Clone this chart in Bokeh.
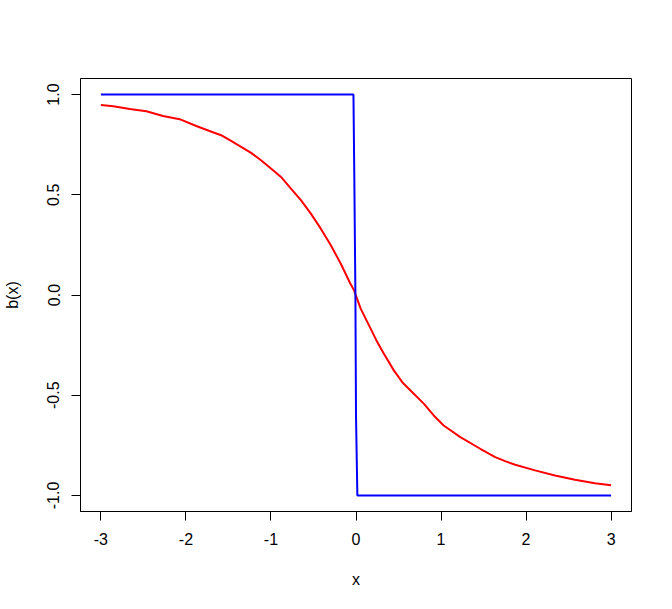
from bokeh.plotting import figure
from bokeh.models import FixedTicker, Range1d
from bokeh.embed import file_html
from bokeh.resources import INLINE

# Red curve
red_x = [-3.0, -2.855, -2.66, -2.465, -2.27, -2.074, -1.879, -1.683, -1.586,
         -1.469, -1.351, -1.234, -1.117, -1.0, -0.882, -0.765, -0.648, -0.531,
         -0.414, -0.296, -0.179, -0.070, -0.023, 0.055, 0.172, 0.25, 0.328,
         0.445, 0.544, 0.641, 0.797, 0.914, 1.031, 1.227, 1.461, 1.637, 1.754,
         1.872, 2.106, 2.340, 2.575, 2.809, 3.0]
red_y = [0.948, 0.942, 0.928, 0.917, 0.893, 0.877, 0.843, 0.812, 0.797,
         0.769, 0.739, 0.709, 0.672, 0.631, 0.589, 0.531, 0.473, 0.406,
         0.331, 0.248, 0.156, 0.060, 0.023, -0.068, -0.168, -0.235, -0.293,
         -0.376, -0.435, -0.476, -0.542, -0.601, -0.651, -0.709, -0.767, -0.809, -0.829,
         -0.847, -0.875, -0.900, -0.922, -0.939, -0.949]

# Blue step curve
blue_x = [-3.0, -0.03, -0.02, -0.007, 0.0, 0.016, 3.0]
blue_y = [1.0, 1.0, 0.6, 0.0, -0.6, -1.0, -1.0]

x_ticks = [-3, -2, -1, 0, 1, 2, 3]
x_tick_labels = ["-3", "-2", "-1", "0", "1", "2", "3"]
y_ticks = [-1.0, -0.5, 0.0, 0.5, 1.0]
y_tick_labels = ["-1.0", "-0.5", "0.0", "0.5", "1.0"]

FONT = "Liberation Sans"

xmin, xmax = min(red_x + blue_x), max(red_x + blue_x)
ymin, ymax = min(red_y + blue_y), max(red_y + blue_y)
xpad = 0.04 * (xmax - xmin)
ypad = 0.04 * (ymax - ymin)

p = figure(width=656, height=593, output_backend="svg", toolbar_location=None,
           x_range=Range1d(xmin - xpad, xmax + xpad),
           y_range=Range1d(ymin - ypad, ymax + ypad),
           min_border_left=78, min_border_right=25,
           min_border_top=78, min_border_bottom=82)

p.line(red_x, red_y, line_color="#FF0000", line_width=2)
p.line(blue_x, blue_y, line_color="#0000FF", line_width=2)

p.xgrid.visible = False
p.ygrid.visible = False
p.outline_line_color = "black"
p.outline_line_width = 1
p.background_fill_color = "white"
p.border_fill_color = "white"

p.xaxis.ticker = FixedTicker(ticks=x_ticks)
p.xaxis.major_label_overrides = {t: l for t, l in zip(x_ticks, x_tick_labels)}
p.yaxis.ticker = FixedTicker(ticks=y_ticks)
p.yaxis.major_label_overrides = {t: l for t, l in zip(y_ticks, y_tick_labels)}
p.yaxis.major_label_orientation = "vertical"

p.xaxis.axis_label = "x"
p.yaxis.axis_label = "b(x)"

for ax in (p.xaxis, p.yaxis):
    ax.axis_line_color = "black"
    ax.major_tick_line_color = "black"
    ax.major_tick_in = 0
    ax.major_tick_out = 9
    ax.minor_tick_line_color = None
    ax.major_label_text_font = FONT
    ax.major_label_text_font_size = "16px"
    ax.major_label_text_color = "black"
    ax.axis_label_text_font = FONT
    ax.axis_label_text_font_size = "16px"
    ax.axis_label_text_font_style = "normal"
    ax.axis_label_text_color = "black"

p.xaxis.major_label_standoff = 12
p.yaxis.major_label_standoff = 12
p.xaxis.axis_label_standoff = 23
p.yaxis.axis_label_standoff = 24

open("out.html", "w").write(file_html(p, INLINE))
